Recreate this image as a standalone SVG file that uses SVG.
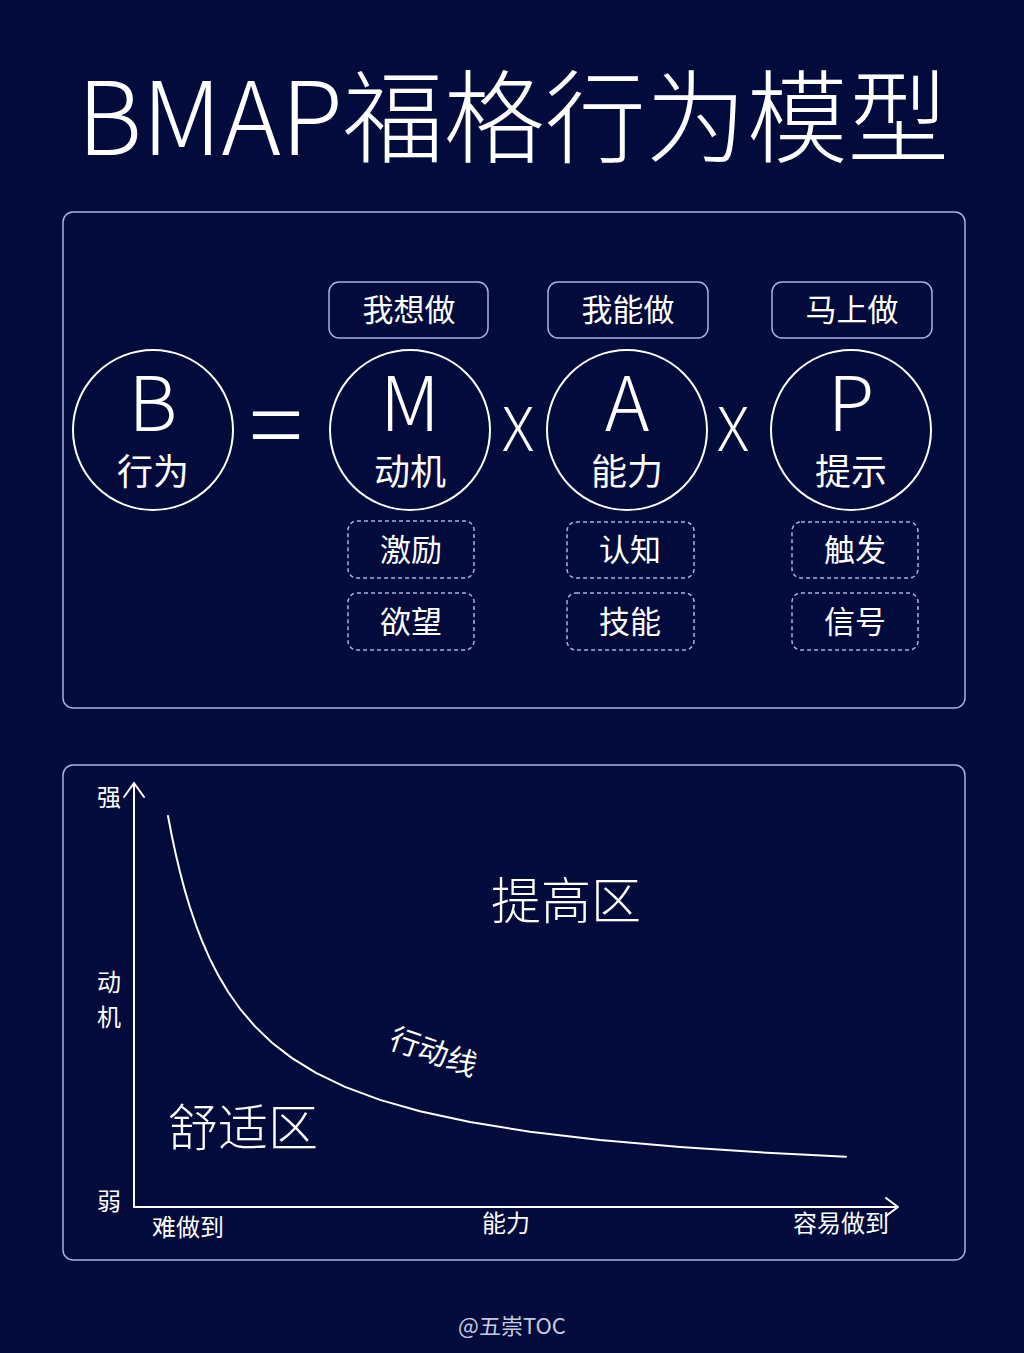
<svg xmlns="http://www.w3.org/2000/svg" width="1024" height="1353" viewBox="0 0 1024 1353">
<defs>
<style>
text{font-family:"Noto Sans CJK SC","Noto Sans",sans-serif;fill:#ffffff;text-anchor:middle}
.panel{fill:none;stroke:#a9b3da;stroke-width:1.5}
.circ{fill:none;stroke:#ffffff;stroke-width:2}
.tag{fill:none;stroke:#a9b3da;stroke-width:1.5}
.dash{fill:none;stroke:#a9b3da;stroke-width:1.5;stroke-dasharray:4 3}
.big{font-size:76px;font-weight:300}
.sub{font-size:36px}
.lab{font-size:31px}
.ax{font-size:24px}
.zone{font-size:50px;font-weight:300}
.line{fill:none;stroke:#ffffff;stroke-width:2;stroke-linejoin:round;stroke-linecap:round}
</style>
</defs>
<rect width="1024" height="1353" fill="#020b3b"/>
<text id="title" x="513" y="155" style="font-size:101px;font-weight:300">BMAP福格行为模型</text>

<rect class="panel" x="63" y="212" width="902" height="496" rx="10"/>

<g id="nodeB"><circle class="circ" cx="153" cy="430" r="80"/><text class="big" x="153" y="431">B</text><text class="sub" x="153" y="485">行为</text></g>
<text id="eq" x="276" y="462" style="font-size:100px;font-weight:300">=</text>

<g id="tagM"><rect class="tag" x="329" y="282" width="159" height="56" rx="10"/><text class="lab" x="409" y="321">我想做</text></g>
<g id="nodeM"><circle class="circ" cx="410" cy="430" r="80"/><text class="big" x="410" y="431">M</text><text class="sub" x="410" y="485">动机</text></g>
<text id="x1" x="518" y="451" style="font-size:60px;font-weight:300">X</text>
<g id="m1"><rect class="dash" x="348" y="521" width="126" height="57" rx="9"/><text class="lab" x="411" y="561">激励</text></g>
<g id="m2"><rect class="dash" x="348" y="593" width="126" height="57" rx="9"/><text class="lab" x="411" y="633">欲望</text></g>

<g id="tagA"><rect class="tag" x="548" y="282" width="160" height="56" rx="10"/><text class="lab" x="628" y="321">我能做</text></g>
<g id="nodeA"><circle class="circ" cx="627" cy="430" r="80"/><text class="big" x="627" y="431">A</text><text class="sub" x="627" y="485">能力</text></g>
<text id="x2" x="733" y="451" style="font-size:60px;font-weight:300">X</text>
<g id="a1"><rect class="dash" x="567" y="522" width="127" height="56" rx="9"/><text class="lab" x="630" y="561">认知</text></g>
<g id="a2"><rect class="dash" x="567" y="593" width="127" height="57" rx="9"/><text class="lab" x="630" y="633">技能</text></g>

<g id="tagP"><rect class="tag" x="772" y="282" width="160" height="56" rx="10"/><text class="lab" x="852" y="321">马上做</text></g>
<g id="nodeP"><circle class="circ" cx="851" cy="430" r="80"/><text class="big" x="851" y="431">P</text><text class="sub" x="851" y="485">提示</text></g>
<g id="p1"><rect class="dash" x="792" y="522" width="126" height="56" rx="9"/><text class="lab" x="855" y="561">触发</text></g>
<g id="p2"><rect class="dash" x="792" y="593" width="126" height="57" rx="9"/><text class="lab" x="855" y="633">信号</text></g>

<rect class="panel" x="63" y="765" width="902" height="495" rx="10"/>
<g id="connectors">
<path class="line" d="M134,1207 V783 M124,797 L134,783 L144,797"/>
<path class="line" d="M134,1207 H898 M886,1198 L898,1207 L886,1216"/>
<polyline class="line" points="168,816 172,836.7 176,855.3 180,872.1 185,890.9 190,907.5 196,925.3 202,940.9 210,959.1 218,974.8 228,991.7 240,1008.8 255,1026.4 272,1042.7 292,1058.1 316,1072.9 345,1086.9 380,1099.9 420,1111.3 470,1122 530,1131.7 600,1140 680,1147 760,1152.3 846,1156.8"/>
</g>
<text class="ax" x="109" y="806">强</text>
<text class="ax" x="109" y="991">动</text>
<text class="ax" x="109" y="1026">机</text>
<text class="ax" x="109" y="1210">弱</text>
<text class="ax" x="188" y="1236">难做到</text>
<text class="ax" x="506" y="1232">能力</text>
<text class="ax" x="841" y="1232">容易做到</text>
<text class="zone" x="566" y="919">提高区</text>
<text class="zone" x="243" y="1146">舒适区</text>
<text x="0" y="0" style="font-size:30px" transform="translate(430,1062) rotate(19)">行动线</text>
<text x="512" y="1334" style="font-size:22px;fill:#c8cbe0">@五崇TOC</text>
</svg>
